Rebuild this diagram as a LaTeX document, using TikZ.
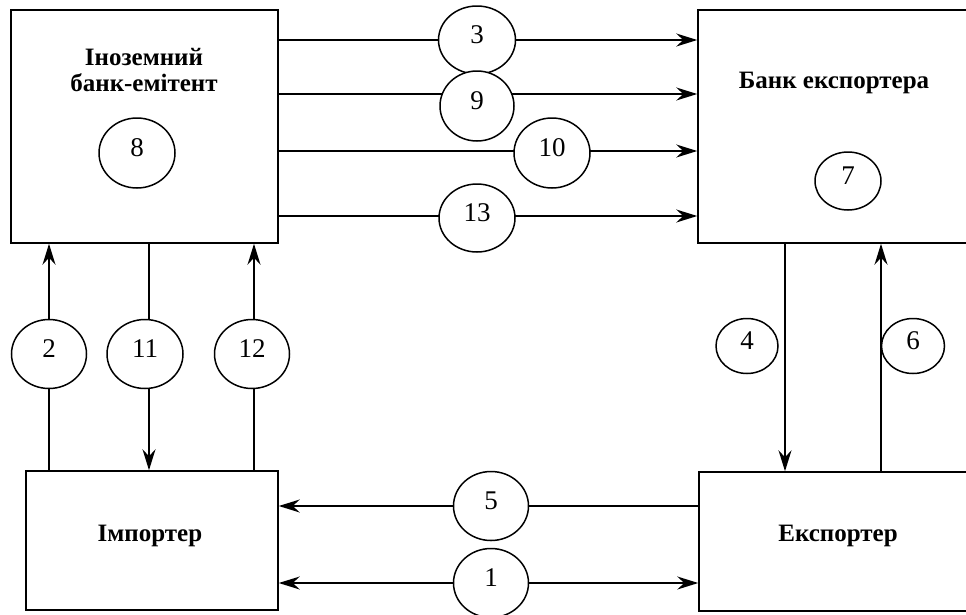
\documentclass[tikz,border=0pt]{standalone}
\usepackage{fontspec}
\setmainfont{Liberation Serif}
\usetikzlibrary{shapes.geometric,arrows.meta,backgrounds}

\tikzset{
  box/.style={draw, line width=1.5pt, rectangle, inner sep=0pt},
  title/.style={font=\fontsize{25}{26}\selectfont\bfseries, align=center, inner sep=0pt},
  num/.style={draw, line width=1.5pt, ellipse, fill=white, inner sep=0pt,
              text depth=11pt, font=\fontsize{27}{28}\selectfont},
  tip/.tip={Stealth[length=21pt,width=13pt,inset=7pt]},
  flow/.style={line width=1.5pt},
  arr/.style={flow, -tip},
  dbl/.style={flow, tip-tip},
}

\begin{document}
\begin{tikzpicture}[x=1pt,y=-1pt]
  \useasboundingbox (0,0) rectangle (966,614);
  \clip (0,0) rectangle (966,614);

  % the four parties
  \node[box, minimum width=267pt, minimum height=233pt] (ib) at (144.5,126.5) {};
  \node[box, minimum width=292pt, minimum height=233pt] (be) at (844,126.5) {};
  \node[box, minimum width=252pt, minimum height=139pt] (im) at (152,540.5) {};
  \node[box, minimum width=291pt, minimum height=139pt] (ex) at (844.5,541.5) {};

  \node[title] (tib) at (144,70) {Іноземний\\банк-емітент};
  \node[title] (tbe) at (834,83) {Банк експортера};
  \node[title] (tim) at (150,536) {Імпортер};
  \node[title] (tex) at (838,536) {Експортер};

  % numbered steps
  \node[num, minimum width=76pt, minimum height=70pt] (c8) at (137,153) {8};
  \node[num, minimum width=66pt, minimum height=58pt] (c7) at (848,181) {7};
  \node[num, minimum width=77pt, minimum height=68pt] (c3) at (477,40) {3};
  \node[num, minimum width=74pt, minimum height=70pt] (c9) at (477,106) {9};
  \node[num, minimum width=76pt, minimum height=70pt] (c10) at (552,153) {10};
  \node[num, minimum width=76pt, minimum height=68pt] (c13) at (477,218) {13};
  \node[num, minimum width=75pt, minimum height=69pt] (c2) at (49,354) {2};
  \node[num, minimum width=76pt, minimum height=69pt] (c11) at (145,354) {11};
  \node[num, minimum width=75pt, minimum height=69pt] (c12) at (252,354) {12};
  \node[num, minimum width=62pt, minimum height=55pt] (c4) at (747,346) {4};
  \node[num, minimum width=63pt, minimum height=55pt] (c6) at (913,346) {6};
  \node[num, minimum width=75pt, minimum height=69pt] (c5) at (491,506) {5};
  \node[num, minimum width=75pt, minimum height=69pt] (c1) at (491,583) {1};

  % levels of the connectors
  \coordinate (y3) at (0,40);
  \coordinate (y9) at (0,94);
  \coordinate (y10) at (0,151);
  \coordinate (y13) at (0,216);
  \coordinate (y5) at (0,506);
  \coordinate (y1) at (0,583);
  \coordinate (x2) at (49,0);
  \coordinate (x11) at (149,0);
  \coordinate (x12) at (254,0);
  \coordinate (x4) at (785,0);
  \coordinate (x6) at (881,0);

  \begin{pgfonlayer}{background}
    \draw[arr] (ib.east |- y3) -- (be.west |- y3);
    \draw[arr] (ib.east |- y9) -- (be.west |- y9);
    \draw[arr] (ib.east |- y10) -- (be.west |- y10);
    \draw[arr] (ib.east |- y13) -- (be.west |- y13);

    \draw[arr] (im.north -| x2) -- (ib.south -| x2);
    \draw[arr] (ib.south -| x11) -- (im.north -| x11);
    \draw[arr] (im.north -| x12) -- (ib.south -| x12);

    \draw[arr] (be.south -| x4) -- (ex.north -| x4);
    \draw[arr] (ex.north -| x6) -- (be.south -| x6);

    \draw[arr] (ex.west |- y5) -- (im.east |- y5);
    \draw[dbl] (im.east |- y1) -- (ex.west |- y1);
  \end{pgfonlayer}
\end{tikzpicture}
\end{document}
